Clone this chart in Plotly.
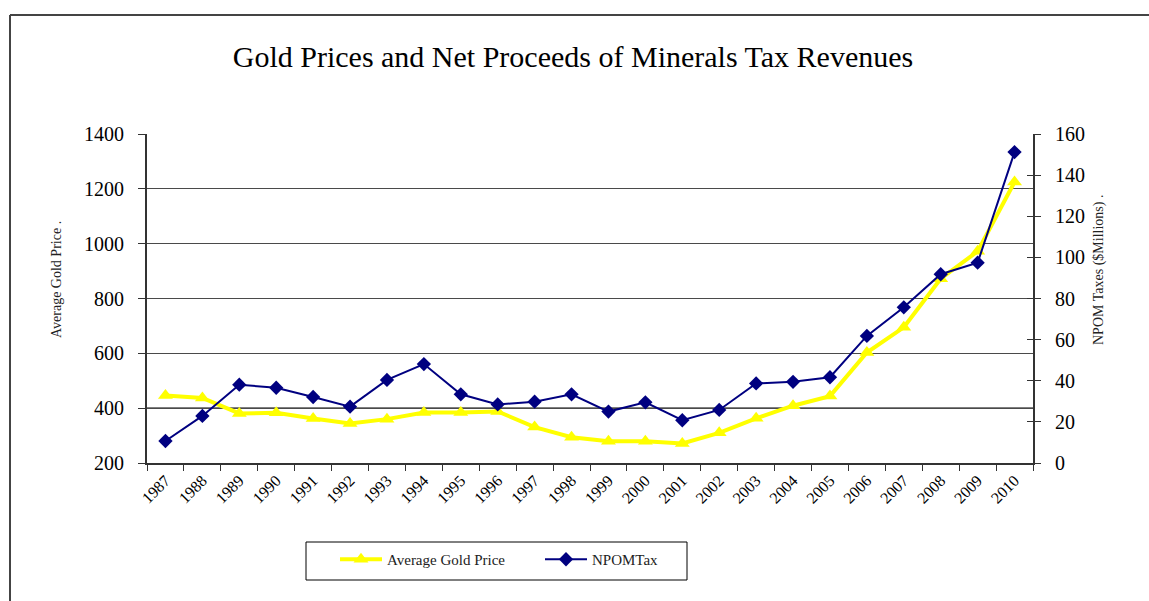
import plotly.graph_objects as go

# Annual series, 1987-2010
years = [str(y) for y in range(1987, 2011)]
gold_price = [446, 437, 381, 383, 362, 344, 360, 384, 384, 388, 331, 294,
              279, 279, 271, 310, 363, 409, 444, 603, 695, 872, 972, 1225]
npom_tax = [10.7, 22.9, 38.1, 36.6, 32.1, 27.4, 40.4, 48.1, 33.4, 28.5, 29.8, 33.4,
            25.0, 29.5, 20.8, 25.8, 38.7, 39.5, 41.7, 61.8, 75.7, 91.8, 97.4, 151.2]

W, H = 1149, 601
L, R, T, B = 147, 1033, 134, 463  # plot-area edges in pixels

SERIF = "Liberation Serif, Times New Roman, serif"
AXIS_GREY = "#333333"


def px_x(px):
    return (px - L) / (R - L)


def px_y(py):
    return (B - py) / (B - T)


fig = go.Figure()

fig.add_trace(go.Scatter(
    x=years, y=gold_price, name="Average Gold Price", mode="lines+markers",
    line=dict(color="#FFFF00", width=4),
    marker=dict(symbol="triangle-up", size=13, color="#FFFF00"),
    yaxis="y",
))
fig.add_trace(go.Scatter(
    x=years, y=npom_tax, name="NPOMTax", mode="lines+markers",
    line=dict(color="#000080", width=2),
    marker=dict(symbol="diamond", size=11, color="#000080"),
    yaxis="y2",
))

fig.update_layout(
    width=W, height=H,
    margin=dict(l=L, r=W - R, t=T, b=H - B),
    paper_bgcolor="white", plot_bgcolor="white",
    font=dict(family=SERIF, color="black"),
    title=dict(
        text="Gold Prices and Net Proceeds of Minerals Tax Revenues",
        x=573 / W, xanchor="center", y=1 - 56 / H, yanchor="middle",
        font=dict(size=30, family=SERIF, color="black"),
    ),
    xaxis=dict(
        type="category", range=[-0.5, len(years) - 0.5],
        showline=True, linecolor=AXIS_GREY, linewidth=2,
        ticks="outside", ticklen=6, tickcolor=AXIS_GREY, tickson="boundaries",
        tickangle=-45, tickfont=dict(size=16, family=SERIF),
        showgrid=False, zeroline=False,
    ),
    yaxis=dict(
        range=[200, 1400], dtick=200, showline=True, linecolor=AXIS_GREY, linewidth=2,
        ticks="outside", ticklen=7, tickcolor=AXIS_GREY,
        tickfont=dict(size=20, family=SERIF), ticklabelstandoff=10,
        showgrid=True, gridcolor="#4a4a4a", gridwidth=1.2, zeroline=False,
    ),
    yaxis2=dict(
        range=[0, 160], dtick=20, overlaying="y", side="right",
        showline=True, linecolor=AXIS_GREY, linewidth=2,
        ticks="outside", ticklen=6, tickcolor=AXIS_GREY,
        tickfont=dict(size=20, family=SERIF), ticklabelstandoff=10,
        showgrid=False, zeroline=False,
    ),
    # inner halves of the right-axis tick marks
    yaxis3=dict(
        range=[0, 160], dtick=20, overlaying="y", side="right",
        showline=False, ticks="inside", ticklen=6, tickcolor=AXIS_GREY,
        showticklabels=False, showgrid=False, zeroline=False,
    ),
    legend=dict(
        orientation="h", x=px_x(335), xanchor="left", y=px_y(543), yanchor="top",
        borderwidth=0, bgcolor="rgba(0,0,0,0)",
        font=dict(size=15, family=SERIF, color="#222222"),
        itemwidth=42, entrywidth=148,
    ),
    showlegend=True,
)

# Dummy trace so the inner tick axis is drawn
fig.add_trace(go.Scatter(x=[years[0]], y=[0], yaxis="y3", mode="markers",
                         marker=dict(opacity=0), showlegend=False, hoverinfo="skip"))

# Darker gridline at 400
fig.add_shape(type="line", xref="paper", yref="y", x0=0, x1=1, y0=400, y1=400,
              line=dict(color="black", width=1.2), layer="below")

# Legend frame
fig.add_shape(type="rect", xref="paper", yref="paper",
              x0=px_x(306), x1=px_x(687), y0=px_y(542), y1=px_y(580),
              line=dict(color="black", width=1), layer="below")

# Axis titles
fig.add_annotation(
    text="Average Gold Price .", xref="paper", yref="paper",
    x=px_x(56), y=px_y(280), xanchor="center", yanchor="middle",
    textangle=-90, showarrow=False,
    font=dict(size=14, family=SERIF, color="#222222"),
)
fig.add_annotation(
    text="NPOM Taxes ($Millions) .", xref="paper", yref="paper",
    x=px_x(1099), y=px_y(270), xanchor="center", yanchor="middle",
    textangle=-90, showarrow=False,
    font=dict(size=14, family=SERIF, color="#222222"),
)

# Outer chart frame (top and left edges)
fig.add_shape(type="line", xref="paper", yref="paper",
              x0=px_x(10), x1=px_x(1149), y0=px_y(15), y1=px_y(15),
              line=dict(color="#444444", width=2))
fig.add_shape(type="line", xref="paper", yref="paper",
              x0=px_x(10), x1=px_x(10), y0=px_y(15), y1=px_y(601),
              line=dict(color="#444444", width=2))

fig.write_html("out.html")
